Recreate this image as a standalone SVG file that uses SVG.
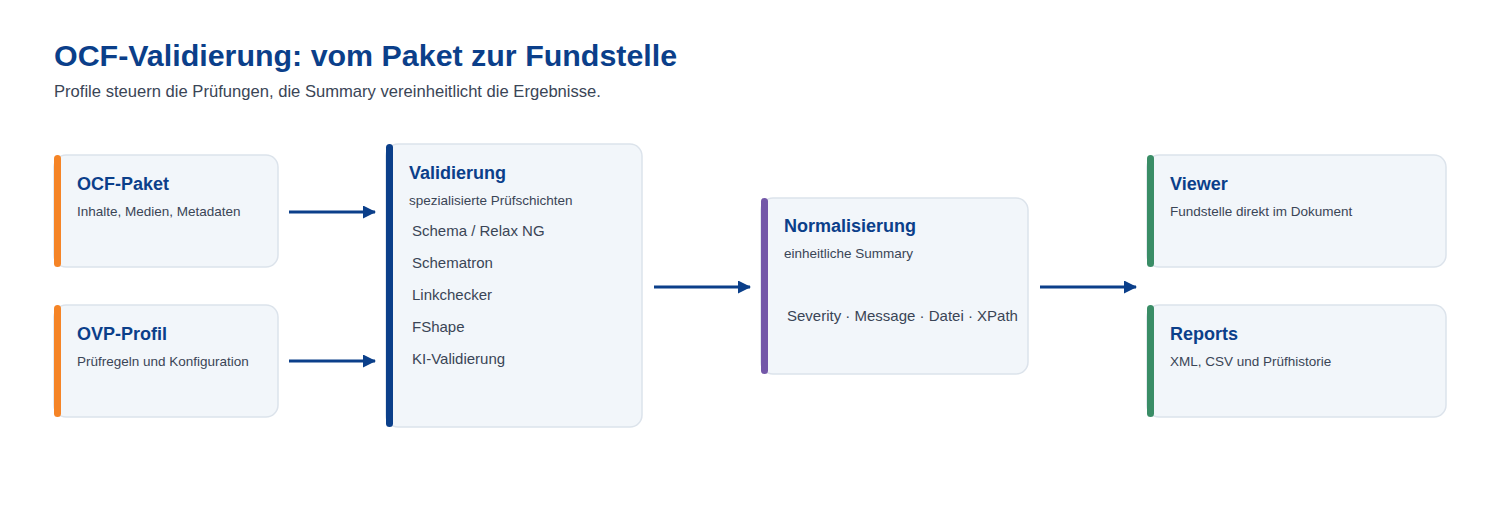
<svg xmlns="http://www.w3.org/2000/svg" width="1500" height="514" viewBox="0 0 1500 514">
<style>
  text { font-family: "Liberation Sans", Arial, sans-serif; }
  .h1 { font-size: 30.4px; font-weight: bold; fill: #0B3F8A; }
  .sub { font-size: 16.6px; fill: #3A4556; }
  .card { fill: #F2F6FA; stroke: #DCE3EB; stroke-width: 1.5; }
  .t { font-size: 18px; font-weight: bold; fill: #0B3F8A; }
  .d { font-size: 13.5px; fill: #3A4556; }
  .i { font-size: 15px; fill: #3A4556; }
  .edge { stroke: #0B3F8A; stroke-width: 3; fill: none; marker-end: url(#ah); }
</style>
<defs>
  <marker id="ah" viewBox="0 0 13 13" refX="12" refY="6.5" markerWidth="13" markerHeight="13" markerUnits="userSpaceOnUse" orient="auto">
    <path d="M0,0 L13,6.5 L0,13 z" fill="#0B3F8A"/>
  </marker>
</defs>
<rect width="1500" height="514" fill="#FFFFFF"/>
<text class="h1" x="54" y="66">OCF-Validierung: vom Paket zur Fundstelle</text>
<text class="sub" x="54" y="97">Profile steuern die Prüfungen, die Summary vereinheitlicht die Ergebnisse.</text>

<g id="connectors">
  <line class="edge" x1="289" y1="212" x2="375" y2="212"/>
  <line class="edge" x1="289" y1="361" x2="375" y2="361"/>
  <line class="edge" x1="654" y1="287" x2="750" y2="287"/>
  <line class="edge" x1="1040" y1="287" x2="1136" y2="287"/>
</g>

<g id="ocf-paket">
  <rect class="card" x="54" y="155" width="224" height="112" rx="12"/>
  <rect x="54" y="155" width="7" height="112" rx="3.5" fill="#F58426"/>
  <text class="t" x="77" y="190">OCF-Paket</text>
  <text class="d" x="77" y="216">Inhalte, Medien, Metadaten</text>
</g>

<g id="ovp-profil">
  <rect class="card" x="54" y="305" width="224" height="112" rx="12"/>
  <rect x="54" y="305" width="7" height="112" rx="3.5" fill="#F58426"/>
  <text class="t" x="77" y="340">OVP-Profil</text>
  <text class="d" x="77" y="366">Prüfregeln und Konfiguration</text>
</g>

<g id="validierung">
  <rect class="card" x="386" y="144" width="256" height="283" rx="12"/>
  <rect x="386" y="144" width="7" height="283" rx="3.5" fill="#0B3F8A"/>
  <text class="t" x="409" y="179">Validierung</text>
  <text class="d" x="409" y="205">spezialisierte Prüfschichten</text>
  <text class="i" x="412" y="236">Schema / Relax NG</text>
  <text class="i" x="412" y="268">Schematron</text>
  <text class="i" x="412" y="300">Linkchecker</text>
  <text class="i" x="412" y="332">FShape</text>
  <text class="i" x="412" y="364">KI-Validierung</text>
</g>

<g id="normalisierung">
  <rect class="card" x="761" y="198" width="267" height="176" rx="12"/>
  <rect x="761" y="198" width="7" height="176" rx="3.5" fill="#7357A8"/>
  <text class="t" x="784" y="232">Normalisierung</text>
  <text class="d" x="784" y="258">einheitliche Summary</text>
  <text class="i" x="787" y="321">Severity · Message · Datei · XPath</text>
</g>

<g id="viewer">
  <rect class="card" x="1147" y="155" width="299" height="112" rx="12"/>
  <rect x="1147" y="155" width="7" height="112" rx="3.5" fill="#3A8D66"/>
  <text class="t" x="1170" y="190">Viewer</text>
  <text class="d" x="1170" y="216">Fundstelle direkt im Dokument</text>
</g>

<g id="reports">
  <rect class="card" x="1147" y="305" width="299" height="112" rx="12"/>
  <rect x="1147" y="305" width="7" height="112" rx="3.5" fill="#3A8D66"/>
  <text class="t" x="1170" y="340">Reports</text>
  <text class="d" x="1170" y="366">XML, CSV und Prüfhistorie</text>
</g>
</svg>
